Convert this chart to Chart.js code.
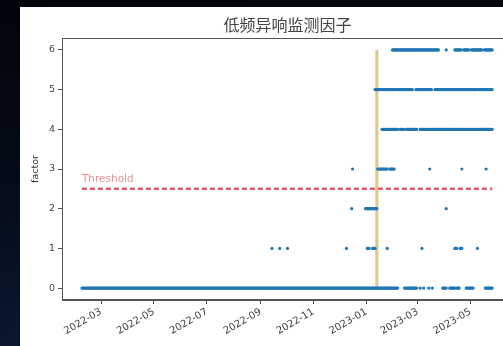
<!DOCTYPE html>
<html>
<head>
<meta charset="utf-8">
<script src="https://cdn.jsdelivr.net/npm/chart.js@4/dist/chart.umd.min.js"></script>
<style>
    html, body {
        margin: 0;
        width: 503px;
        height: 346px;
        overflow: hidden;
        background: linear-gradient(170deg, #02040a 0%, #050c1a 45%, #0c1e3a 100%);
    }
    #panel {
        position: absolute;
        left: 20px;
        top: 7px;
        width: 535px;
        height: 339px;
        background: #fff;
    }
</style>
</head>
<body>
<div id="panel"><canvas id="factor" width="535" height="339"></canvas></div>
<script>
// Runs of consecutive daily readings for each factor level: [first day, last day]
const runs0 = [
    ['2022-02-07', '2023-02-06'], ['2023-02-14', '2023-02-28'], ['2023-03-04', '2023-03-04'],
    ['2023-03-08', '2023-03-08'], ['2023-03-14', '2023-03-14'], ['2023-03-18', '2023-03-18'],
    ['2023-03-30', '2023-04-03'], ['2023-04-07', '2023-04-13'], ['2023-04-15', '2023-04-18'],
    ['2023-04-26', '2023-05-04'], ['2023-05-18', '2023-05-26']
];
const runs1 = [
    ['2022-09-14', '2022-09-14'], ['2022-09-23', '2022-09-23'], ['2022-10-02', '2022-10-02'],
    ['2022-12-09', '2022-12-09'], ['2023-01-02', '2023-01-04'], ['2023-01-08', '2023-01-11'],
    ['2023-01-25', '2023-01-25'], ['2023-03-06', '2023-03-06'], ['2023-04-13', '2023-04-15'],
    ['2023-04-19', '2023-04-21'], ['2023-05-09', '2023-05-09']
];
const runs2 = [
    ['2022-12-15', '2022-12-15'], ['2022-12-31', '2023-01-13'], ['2023-04-03', '2023-04-03']
];
const runs3 = [
    ['2022-12-16', '2022-12-16'], ['2023-01-14', '2023-01-25'], ['2023-01-28', '2023-02-02'],
    ['2023-03-15', '2023-03-15'], ['2023-04-21', '2023-04-21'], ['2023-05-19', '2023-05-19']
];
const runs4 = [
    ['2023-01-19', '2023-02-06'], ['2023-02-09', '2023-02-13'], ['2023-02-16', '2023-02-28'],
    ['2023-03-04', '2023-05-26']
];
const runs5 = [
    ['2023-01-11', '2023-02-04'], ['2023-02-06', '2023-02-23'], ['2023-02-27', '2023-03-17'],
    ['2023-03-21', '2023-05-08'], ['2023-05-10', '2023-05-26']
];
const runs6 = [
    ['2023-01-31', '2023-03-25'], ['2023-04-03', '2023-04-03'], ['2023-04-13', '2023-04-20'],
    ['2023-04-23', '2023-04-29'], ['2023-05-02', '2023-05-14'], ['2023-05-17', '2023-05-26']
];
const levelRuns = [runs0, runs1, runs2, runs3, runs4, runs5, runs6];

const threshold = 2.5;
const alarmDate = '2023-01-13';
const seriesStart = '2022-02-07';
const seriesEnd = '2023-05-26';

const xTickDates = ['2022-03-01', '2022-05-01', '2022-07-01', '2022-09-01', '2022-11-01', '2023-01-01', '2023-03-01', '2023-05-01'];
const xTickLabels = ['2022-03', '2022-05', '2022-07', '2022-09', '2022-11', '2023-01', '2023-03', '2023-05'];
const yTicks = [0, 1, 2, 3, 4, 5, 6];

const chartTitle = '低频异响监测因子';

// days since epoch, so the x axis can stay linear
function dayNum(s) {
    return Date.UTC(+s.slice(0, 4), +s.slice(5, 7) - 1, +s.slice(8, 10)) / 86400000;
}

let points = [];
levelRuns.forEach((runs, level) => {
    runs.forEach(([a, b]) => {
        for (let d = dayNum(a); d <= dayNum(b); d++) points.push({ x: d, y: level });
    });
});

const axisColor = '#555';

// full box around the plot area
const frame = {
    id: 'frame',
    afterDraw(chart) {
        const a = chart.chartArea, ctx = chart.ctx;
        ctx.save();
        ctx.strokeStyle = axisColor;
        ctx.lineWidth = 1;
        ctx.strokeRect(a.left + 0.5, a.top + 0.5, a.width - 1, a.height - 1);
        ctx.restore();
    }
};

// title centred over the plot area rather than the whole canvas
const areaTitle = {
    id: 'areaTitle',
    afterDraw(chart) {
        const a = chart.chartArea, ctx = chart.ctx;
        ctx.save();
        ctx.font = '16px "Noto Sans CJK SC"';
        ctx.fillStyle = '#444';
        ctx.textAlign = 'center';
        ctx.textBaseline = 'middle';
        ctx.fillText(chartTitle, (a.left + a.right) / 2, 18);
        ctx.restore();
    }
};

// text label sitting on the threshold line
const thresholdLabel = {
    id: 'thresholdLabel',
    afterDatasetsDraw(chart) {
        const x = chart.scales.x.getPixelForValue(dayNum(seriesStart));
        const y = chart.scales.y.getPixelForValue(threshold + 0.1);
        const ctx = chart.ctx;
        ctx.save();
        ctx.font = '10.5px "DejaVu Sans"';
        ctx.fillStyle = 'rgba(214, 70, 70, 0.6)';
        ctx.textBaseline = 'bottom';
        ctx.fillText('Threshold', x, y);
        ctx.restore();
    }
};

let ctx = document.getElementById('factor').getContext('2d');
let chart = new Chart(ctx, {
    type: 'scatter',
    data: {
        datasets: [
            {
                label: 'factor',
                data: points,
                backgroundColor: '#1f77b4',
                borderWidth: 0,
                pointRadius: 1.6,
                pointHoverRadius: 1.6,
                order: 1
            },
            {
                type: 'line',
                label: 'Threshold',
                data: [{ x: dayNum(seriesStart), y: threshold }, { x: dayNum(seriesEnd), y: threshold }],
                borderColor: 'rgba(228, 60, 80, 0.85)',
                borderWidth: 2.5,
                borderDash: [5, 3],
                pointRadius: 0,
                order: 2
            },
            {
                type: 'line',
                label: 'alarm',
                data: [{ x: dayNum(alarmDate), y: 0 }, { x: dayNum(alarmDate), y: 6 }],
                borderColor: 'rgba(214, 188, 110, 0.8)',
                borderWidth: 3,
                pointRadius: 0,
                order: 3
            }
        ]
    },
    options: {
        responsive: false,
        animation: false,
        layout: { padding: { top: 31, right: 42, bottom: 0, left: 0 } },
        plugins: {
            legend: { display: false },
            tooltip: { enabled: false },
            title: { display: false }
        },
        scales: {
            x: {
                type: 'linear',
                min: dayNum('2022-01-15'),
                max: dayNum('2023-06-19'),
                afterBuildTicks: scale => {
                    scale.ticks = xTickDates.map(d => ({ value: dayNum(d) }));
                },
                afterFit: scale => { scale.height = 46; },
                ticks: {
                    callback: (v, i) => xTickLabels[i],
                    minRotation: 30,
                    maxRotation: 30,
                    color: '#444',
                    font: { family: 'DejaVu Sans', size: 10 },
                    padding: 2
                },
                grid: { drawOnChartArea: false, drawTicks: true, tickLength: 4, color: axisColor },
                border: { display: true, color: axisColor }
            },
            y: {
                min: -0.3,
                max: 6.3,
                afterBuildTicks: scale => {
                    scale.ticks = yTicks.map(v => ({ value: v }));
                },
                afterFit: scale => { scale.width = 42; },
                ticks: { color: '#444', font: { family: 'DejaVu Sans', size: 9.5 }, padding: 3 },
                grid: { drawOnChartArea: false, drawTicks: true, tickLength: 4, color: axisColor },
                border: { display: true, color: axisColor },
                title: {
                    display: true,
                    text: 'factor',
                    color: '#333',
                    font: { family: 'DejaVu Sans', size: 9.5 },
                    padding: { top: 10, bottom: 2 }
                }
            }
        }
    },
    plugins: [frame, areaTitle, thresholdLabel]
});
</script>
</body>
</html>
